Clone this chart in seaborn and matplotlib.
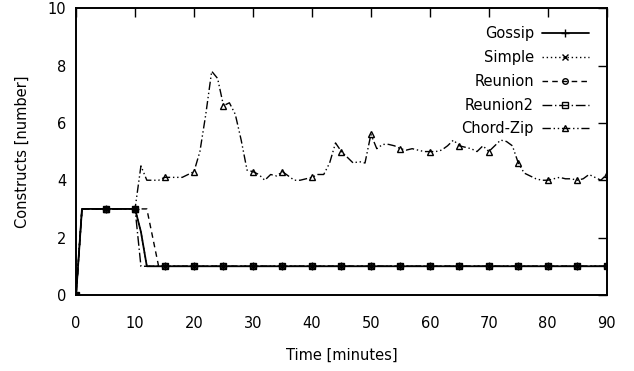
import numpy as np
import pandas as pd
import matplotlib
matplotlib.use('Agg')
import matplotlib.pyplot as plt
import seaborn as sns

# minutes 0..90, one sample per minute
minutes = list(range(0, 91))

gossip = [0] + [3] * 10 + [2.2] + [1] * 79
simple = [0] + [3] * 10 + [2.2] + [1] * 79
reunion = [0] + [3] * 12 + [2.0] + [1] * 77
reunion2 = [0] + [3] * 10 + [1] * 80
chord_zip = [0, 3, 3, 3, 3, 3, 3, 3, 3, 3, 3,
             4.5, 4.0, 4.0, 4.0, 4.1, 4.1, 4.1, 4.1, 4.2, 4.3,
             5.0, 6.3, 7.8, 7.55, 6.6, 6.7, 6.3, 5.4, 4.35, 4.3,
             4.2, 4.0, 4.2, 4.15, 4.3, 4.15, 4.0, 4.0, 4.05, 4.1,
             4.2, 4.2, 4.6, 5.3, 5.0, 4.8, 4.6, 4.65, 4.6, 5.6,
             5.1, 5.25, 5.25, 5.2, 5.1, 5.05, 5.1, 5.05, 5.0, 5.0,
             5.0, 5.05, 5.2, 5.4, 5.2, 5.15, 5.1, 5.0, 5.2, 5.0,
             5.2, 5.4, 5.35, 5.2, 4.6, 4.25, 4.15, 4.05, 4.0, 4.0,
             4.05, 4.1, 4.05, 4.05, 4.0, 4.05, 4.2, 4.1, 4.0, 4.2]

series = {
    'Gossip': gossip,
    'Simple': simple,
    'Reunion': reunion,
    'Reunion2': reunion2,
    'Chord-Zip': chord_zip,
}

# gnuplot-like line / point styles (open points, all black)
styles = {
    'Gossip': dict(linestyle='-', marker='+', lw=1.3, ms=6),
    'Simple': dict(linestyle=(0, (1, 2)), marker='x', lw=1.0, ms=5),
    'Reunion': dict(linestyle=(0, (4, 3)), marker='o', lw=1.0, ms=4),
    'Reunion2': dict(linestyle=(0, (7, 2, 1, 2)), marker='s', lw=1.0, ms=5),
    'Chord-Zip': dict(linestyle=(0, (6, 2, 1, 2, 1, 2)), marker='^', lw=1.0, ms=5),
}

sns.set_style("white")
plt.rcParams['font.family'] = ['DejaVu Sans']
plt.rcParams['font.size'] = 10.5
plt.rcParams['text.color'] = 'black'
plt.rcParams['axes.labelcolor'] = 'black'
plt.rcParams['xtick.color'] = 'black'
plt.rcParams['ytick.color'] = 'black'

fig = plt.figure(figsize=(6.34, 3.71), dpi=100)
ax = fig.add_axes([0.12, 0.205, 0.837, 0.773])

for name, vals in series.items():
    df = pd.DataFrame({'Time': minutes, 'Constructs': vals})
    st = styles[name]
    sns.lineplot(x='Time', y='Constructs', data=df, ax=ax, color='black',
                 linestyle=st['linestyle'], linewidth=st['lw'],
                 marker=st['marker'], markersize=st['ms'],
                 markerfacecolor='none', markeredgecolor='black',
                 markeredgewidth=1.0, markevery=5, label=name)

ax.set_xlim(0, 90)
ax.set_ylim(0, 10)
ax.set_xticks(range(0, 91, 10))
ax.set_yticks(range(0, 11, 2))
ax.tick_params(axis='both', direction='in', length=6.5, width=1,
               top=True, right=True, labelsize=10.5)
ax.tick_params(axis='x', pad=15)
ax.tick_params(axis='y', pad=7)
for sp in ax.spines.values():
    sp.set_color('black')
    sp.set_linewidth(1.4)

ax.set_xlabel('Time [minutes]', fontsize=10.5, labelpad=12)
ax.set_ylabel('Constructs [number]', fontsize=10.5, labelpad=13)

leg = ax.legend(loc='upper right', frameon=False, markerfirst=False,
                handlelength=3.2, labelspacing=0.6, handletextpad=0.55,
                borderaxespad=0.85, fontsize=10.5)

fig.savefig('out.png', dpi=100)
